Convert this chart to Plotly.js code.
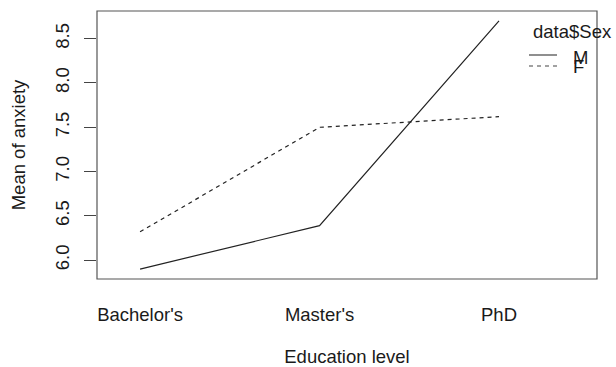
<!DOCTYPE html>
<html>
<head>
<meta charset="utf-8">
<script src="https://cdn.plot.ly/plotly-3.0.1.min.js"></script>
<style>html,body{margin:0;padding:0;background:#fff}</style>
</head>
<body>
<div id="chart" style="width:616px;height:367px"></div>
<script>
// Interaction plot: mean anxiety by education level, one line per sex
const educationLevels = ["Bachelor's", "Master's", "PhD"];
const sexLevels = ["M", "F"];
const anxietyMale = [5.90, 6.39, 8.70];
const anxietyFemale = [6.32, 7.50, 7.62];
const yTickValues = [6.0, 6.5, 7.0, 7.5, 8.0, 8.5];
const yTickLabels = ["6.0", "6.5", "7.0", "7.5", "8.0", "8.5"];
const legendTitle = "data$Sex";

const FONT = "Liberation Sans, Arial, Helvetica, sans-serif";
const INK = "#1a1a1a";
const xPos = educationLevels.map((_, i) => i + 1);

// y range padded 4% like base graphics
const allVals = anxietyMale.concat(anxietyFemale);
const yMin = Math.min(...allVals), yMax = Math.max(...allVals);
const pad = 0.04 * (yMax - yMin);

const W = 616, H = 367;
const margin = {l: 97, r: 19, t: 11, b: 88};
const plotW = W - margin.l - margin.r, plotH = H - margin.t - margin.b;
const px = x => (x - margin.l) / plotW;
const py = y => (H - margin.b - y) / plotH;

const traces = [
  {x: xPos, y: anxietyMale, name: sexLevels[0], mode: "lines",
   line: {color: "#222", width: 1.2, dash: "solid"}, hoverinfo: "skip"},
  {x: xPos, y: anxietyFemale, name: sexLevels[1], mode: "lines",
   line: {color: "#222", width: 1.2, dash: "4px,4px"}, hoverinfo: "skip"}
];

const layout = {
  width: W, height: H,
  margin: margin,
  paper_bgcolor: "#fff", plot_bgcolor: "#fff",
  showlegend: false,
  font: {family: FONT, size: 18.5, color: INK},
  xaxis: {
    range: [0.76, 3.546], tickvals: xPos, ticktext: educationLevels,
    ticks: "", showgrid: false, zeroline: false, showline: false,
    ticklabelstandoff: 22,
    title: {text: "Education level", font: {family: FONT, size: 18.5, color: INK}, standoff: 26}
  },
  yaxis: {
    range: [yMin - pad, yMax + pad], tickvals: yTickValues, ticktext: yTickLabels,
    ticks: "outside", ticklen: 12, tickwidth: 1, tickcolor: "#444",
    ticklabelstandoff: 8,
    tickangle: -90, showgrid: false, zeroline: false, showline: false,
    title: {text: "Mean of anxiety", font: {family: FONT, size: 18.5, color: INK}, standoff: 21}
  },
  shapes: [
    {type: "rect", xref: "paper", yref: "paper", x0: 0, x1: 1, y0: 0, y1: 1,
     line: {color: "#555", width: 1.2}},
    // legend samples
    {type: "line", xref: "paper", yref: "paper", x0: px(529), x1: px(557), y0: py(55), y1: py(55),
     line: {color: "#444", width: 1.2}},
    {type: "line", xref: "paper", yref: "paper", x0: px(529), x1: px(557), y0: py(66), y1: py(66),
     line: {color: "#444", width: 1.2, dash: "4px,4px"}}
  ],
  annotations: [
    {text: legendTitle, xref: "paper", yref: "paper", x: px(531), y: py(32),
     xanchor: "left", yanchor: "middle", showarrow: false},
    {text: sexLevels[0], xref: "paper", yref: "paper", x: px(571), y: py(57.5),
     xanchor: "left", yanchor: "middle", showarrow: false},
    {text: sexLevels[1], xref: "paper", yref: "paper", x: px(571), y: py(66),
     xanchor: "left", yanchor: "middle", showarrow: false}
  ]
};

Plotly.newPlot("chart", traces, layout, {staticPlot: true, displayModeBar: false});
</script>
</body>
</html>
